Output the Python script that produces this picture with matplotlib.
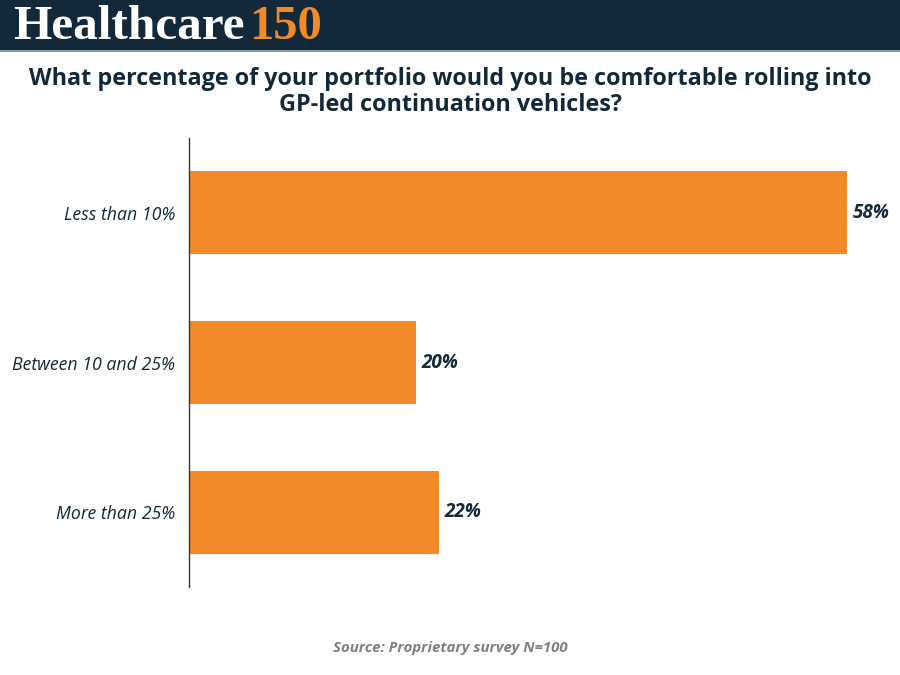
import matplotlib
matplotlib.use("Agg")
import matplotlib.pyplot as plt
from matplotlib import font_manager as fm
from matplotlib.patches import Rectangle

categories = ["Less than 10%", "Between 10 and 25%", "More than 25%"]
values = [58, 20, 22]
value_labels = ["58%", "20%", "22%"]

navy = "#13293a"
orange = "#f38a2a"


def font_file(fname, fallback_style="normal", fallback_weight="normal"):
    # pick the static Open Sans file, not the variable one
    for f in fm.fontManager.ttflist:
        if f.fname.split("/")[-1] == fname:
            return fm.FontProperties(fname=f.fname)
    return fm.FontProperties(family="DejaVu Sans", style=fallback_style, weight=fallback_weight)


fp_bold = font_file("OpenSans-Bold.ttf", "normal", "bold")
fp_italic = font_file("OpenSans-Italic.ttf", "italic", "normal")
fp_bolditalic = font_file("OpenSans-BoldItalic.ttf", "italic", "bold")

W, H = 900, 675
fig = plt.figure(figsize=(9, 6.75), dpi=100, facecolor="white")

# header band
fig.patches.append(Rectangle((0, 1 - 50 / H), 1, 50 / H, transform=fig.transFigure,
                             facecolor=navy, edgecolor="none", zorder=0))
fig.patches.append(Rectangle((0, 1 - 52 / H), 1, 2 / H, transform=fig.transFigure,
                             facecolor="#8a9aa3", edgecolor="none", zorder=0))
fig.text(13 / W, 1 - 27 / H, "Healthcare", family=["Liberation Serif", "DejaVu Serif"],
         weight="bold", fontsize=35.5, color="white", va="center", ha="left")
fig.text(249 / W, 1 - 27 / H, "150", family=["Liberation Serif", "DejaVu Serif"],
         weight="bold", fontsize=35, color=orange, va="center", ha="left")

title = fig.text(0.5, 1 - 92 / H,
                 "What percentage of your portfolio would you be comfortable rolling into\nGP-led continuation vehicles?",
                 ha="center", va="center", color=navy, linespacing=1.15)
title.set_fontproperties(fp_bold)
title.set_fontsize(16.8)

ax = fig.add_axes([189 / W, 1 - 587 / H, 681 / W, 449 / H])
y = list(range(len(categories)))
ax.barh(y, values, height=0.553, color=orange, zorder=2)
ax.set_xlim(0, 60)
ax.set_ylim(2.5, -0.5)
ax.set_yticks(y)
ax.set_yticklabels(categories, color=navy)
for t in ax.get_yticklabels():
    t.set_fontproperties(fp_italic)
    t.set_fontsize(12.8)
ax.tick_params(axis="y", length=0, pad=10)
ax.set_xticks([])
for s in ["top", "right", "bottom"]:
    ax.spines[s].set_visible(False)
ax.spines["left"].set_color("#333333")
ax.spines["left"].set_linewidth(1)

for yi, v, lab in zip(y, values, value_labels):
    t = ax.text(v + 0.5, yi, lab, va="center", ha="left", color=navy)
    t.set_fontproperties(fp_bolditalic)
    t.set_fontsize(13.6)

src = fig.text(0.5, 1 - 648 / H, "Source: Proprietary survey N=100", ha="center", va="center",
               color="#808080")
src.set_fontproperties(fp_bolditalic)
src.set_fontsize(10.8)

fig.savefig("out.png", dpi=100, facecolor="white")
